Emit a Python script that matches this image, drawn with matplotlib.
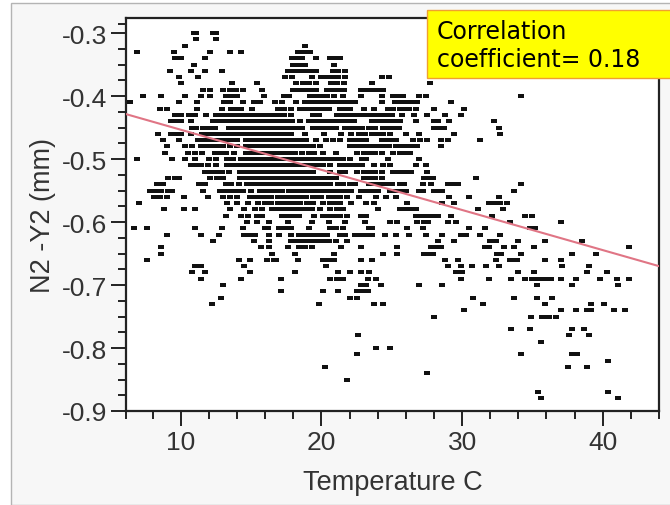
import matplotlib
matplotlib.use('Agg')
import matplotlib.pyplot as plt
from matplotlib.patches import Rectangle

# measurement levels (mm), one list of temperatures per level
y_levels = [-0.30, -0.31, -0.32, -0.33, -0.34, -0.35, -0.36, -0.37, -0.38, -0.39,
            -0.40, -0.41, -0.42, -0.43, -0.44, -0.45, -0.46, -0.47, -0.48, -0.49,
            -0.50, -0.51, -0.52, -0.53, -0.54, -0.55, -0.56, -0.57, -0.58, -0.59,
            -0.60, -0.61, -0.62, -0.63, -0.64, -0.65, -0.66, -0.67, -0.68, -0.69,
            -0.70, -0.71, -0.72, -0.73, -0.74, -0.75, -0.77, -0.78, -0.79, -0.80,
            -0.81, -0.82, -0.83, -0.84, -0.85, -0.87, -0.88]

t_030 = [10.9, 11.1, 12.3, 12.5]
t_031 = [11.1, 12.5]
t_032 = [10.3, 18.8]
t_033 = [6.85, 9.5, 12.05, 13.5, 14.25, 18.3, 18.6, 18.9, 19.2]
t_034 = [9.6, 10.0, 11.75, 17.9, 18.3, 18.6, 19.6, 20.6, 21.0, 21.3]
t_035 = [10.9, 18.0, 18.4, 18.8, 20.9]
t_036 = [9.2, 10.75, 11.75, 12.9, 17.6, 18.0, 18.4, 18.8, 19.2, 19.6, 20.8, 21.2, 21.7]
t_037 = [9.85, 11.25, 17.4, 17.9, 19.3, 20.0, 20.4, 20.8, 21.2, 21.7, 24.3, 24.8]
t_038 = [10.0, 13.65, 15.4, 18.2, 18.7, 19.1, 19.6, 20.7, 21.1, 21.6, 23.6, 27.7]
t_039 = [11.6, 12.1, 13.0, 13.5, 13.9, 14.4, 15.8, 18.0, 18.4, 18.8, 19.2, 19.6, 20.4, 20.8,
         21.2, 21.6, 22.8, 23.2, 23.6, 24.0, 24.4]
t_040 = [7.3, 8.6, 10.3, 11.4, 12.05, 13.2, 13.6, 14.0, 15.9, 17.3, 17.7, 19.2, 19.6, 20.0,
         20.4, 20.9, 21.5, 22.8, 24.3, 25.1, 25.4, 25.8, 26.9, 27.4, 34.2]
t_041 = [6.4, 9.85, 11.15, 13.1, 13.5, 14.4, 15.2, 15.6, 16.7, 17.2, 18.2, 18.8, 19.2, 19.6,
         20.0, 20.4, 20.8, 21.2, 21.6, 22.0, 22.4, 24.3, 25.2, 25.6, 25.9, 26.2, 26.6, 26.8, 29.2]
t_042 = [8.5, 9.0, 11.15, 12.9, 13.6, 14.0, 14.3, 15.05, 16.9, 17.3, 17.8, 18.5, 18.9, 19.3,
         19.7, 20.1, 20.5, 21.3, 21.7, 22.0, 23.0, 23.75, 24.7, 25.1, 25.6, 26.0, 26.2, 26.7,
         28.0, 30.1]
t_043 = [9.6, 10.0, 10.6, 11.0, 11.8, 12.5, 12.9, 13.3, 13.7, 14.1, 14.5, 14.9, 15.3, 15.7,
         16.1, 16.5, 16.9, 17.3, 17.8, 19.4, 19.8, 21.1, 21.5, 21.9, 22.3, 22.7, 23.1, 23.5,
         23.9, 24.3, 24.7, 25.0, 25.7, 26.6, 27.5, 28.8, 29.9]
t_044 = [9.3, 9.7, 10.0, 10.75, 12.3, 12.7, 13.1, 13.5, 13.9, 14.3, 14.7, 15.1, 15.5, 15.9,
         16.3, 16.7, 17.1, 17.5, 17.9, 18.5, 19.1, 19.5, 19.9, 20.3, 20.7, 21.1, 21.5, 21.9,
         22.3, 23.6, 24.0, 24.4, 24.8, 25.2, 25.6, 26.7, 28.0, 28.3, 29.1, 32.3]
t_045 = [10.8, 11.1, 11.6, 12.0, 12.4, 13.4, 13.8, 14.2, 14.6, 15.0, 15.4, 15.8, 16.2, 16.6,
         17.0, 17.4, 17.8, 18.2, 18.6, 19.4, 19.8, 20.2, 20.6, 21.0, 21.7, 22.1, 22.5, 22.9,
         23.4, 23.8, 24.4, 24.8, 25.2, 25.5, 28.0, 28.3, 28.7, 32.6]
t_046 = [8.4, 9.3, 9.7, 10.0, 10.75, 11.5, 11.9, 12.3, 12.7, 13.1, 13.5, 13.9, 14.3, 14.7,
         15.1, 15.5, 15.9, 16.3, 16.7, 17.1, 17.5, 17.8, 18.8, 20.2, 21.4, 22.1, 22.7, 23.1,
         23.6, 24.0, 24.4, 24.9, 26.0, 26.9, 29.4, 32.7]
t_047 = [8.75, 9.85, 11.2, 11.6, 12.0, 12.4, 12.8, 13.2, 13.6, 14.0, 14.6, 15.0, 15.4, 15.8,
         16.2, 16.6, 17.0, 17.4, 17.8, 18.2, 18.6, 18.9, 19.6, 20.3, 20.8, 21.3, 22.0, 22.4,
         22.8, 23.2, 24.3, 24.7, 25.1, 25.3, 26.5, 27.0, 27.5, 28.5, 29.0, 31.3]
t_048 = [9.05, 10.3, 10.8, 11.4, 11.8, 12.2, 12.6, 13.0, 13.5, 14.0, 14.6, 15.0, 15.4, 15.8,
         16.2, 16.6, 17.0, 17.4, 17.8, 18.2, 18.6, 19.0, 19.4, 19.9, 22.0, 22.4, 22.8, 23.2,
         23.6, 24.0, 24.4, 24.8, 25.3, 25.6, 26.0, 26.4, 26.8, 28.5]
t_049 = [8.9, 10.5, 11.0, 11.5, 12.4, 12.8, 13.2, 13.8, 14.6, 15.0, 15.4, 15.8, 16.2, 16.6,
         17.0, 17.4, 17.8, 18.1, 18.6, 19.1, 19.5, 20.1, 21.0, 22.5, 23.0, 23.4, 23.8, 24.3,
         25.1, 25.6, 26.0, 26.3]
t_050 = [6.85, 9.4, 10.3, 11.0, 12.0, 12.5, 13.3, 13.7, 14.3, 14.6, 14.9, 15.3, 15.7, 16.1,
         16.5, 16.9, 17.3, 17.7, 18.1, 18.5, 18.9, 19.3, 19.7, 20.1, 20.4, 20.7, 21.1, 21.5,
         22.0, 22.9, 23.2, 24.7, 26.9]
t_051 = [10.7, 11.1, 11.4, 11.9, 12.5, 13.3, 13.7, 14.1, 14.5, 14.9, 15.3, 15.7, 16.1, 16.5,
         16.9, 17.3, 17.7, 18.1, 18.5, 18.9, 19.3, 19.7, 20.1, 20.6, 21.3, 21.7, 22.1, 22.5,
         22.9, 23.75, 24.4, 24.9, 26.7, 27.4]
t_052 = [11.7, 12.1, 12.5, 12.9, 13.4, 14.2, 14.6, 15.0, 15.4, 15.8, 16.2, 16.6, 17.0, 17.4,
         17.8, 18.2, 18.6, 19.0, 19.4, 20.6, 21.3, 21.7, 22.5, 23.0, 23.4, 23.8, 24.3, 25.1,
         25.4, 25.7, 26.1, 26.4, 27.5]
t_053 = [9.1, 9.6, 9.9, 12.1, 12.6, 13.0, 14.2, 14.6, 15.0, 15.4, 15.8, 16.2, 16.6, 17.0,
         17.4, 17.8, 18.2, 18.6, 19.0, 19.4, 19.8, 20.2, 20.6, 21.0, 23.0, 23.4, 23.8, 24.3,
         27.3, 27.6, 27.9, 31.0]
t_054 = [8.3, 8.7, 11.3, 11.7, 13.2, 13.6, 14.1, 14.7, 15.0, 15.4, 15.8, 16.2, 16.6, 17.0,
         17.4, 17.8, 18.2, 18.6, 19.0, 19.4, 19.8, 20.2, 20.6, 21.2, 21.5, 22.0, 22.4, 23.4,
         23.8, 24.2, 24.6, 25.0, 25.6, 25.9, 27.2, 27.8, 29.0, 29.3, 29.7, 34.2]
t_055 = [7.8, 8.2, 8.6, 9.1, 9.4, 11.6, 12.8, 13.2, 13.6, 14.0, 14.4, 15.0, 15.6, 16.0,
         16.4, 16.8, 17.2, 17.7, 18.0, 18.4, 18.8, 19.2, 19.6, 20.0, 20.4, 20.8, 21.0, 21.4,
         21.8, 22.1, 22.8, 23.2, 23.6, 24.0, 24.9, 25.2, 25.6, 26.0, 26.9, 27.2, 28.0, 28.3,
         28.6, 33.7]
t_056 = [8.1, 8.5, 9.0, 10.2, 11.9, 13.0, 13.5, 14.0, 14.9, 15.3, 15.7, 16.1, 16.4, 16.9,
         17.3, 17.7, 18.1, 18.5, 18.9, 19.4, 19.6, 20.0, 20.5, 20.9, 21.3, 21.8, 22.7, 23.9,
         24.6, 25.3, 29.1, 30.5, 32.6]
t_057 = [7.0, 13.3, 14.0, 14.8, 15.5, 16.0, 16.4, 16.9, 17.3, 17.7, 18.1, 18.5, 19.0, 19.4,
         20.1, 20.6, 21.0, 21.3, 22.1, 23.2, 23.7, 26.1, 28.6, 29.4, 31.9, 32.3, 32.7, 33.2]
t_058 = [8.8, 10.2, 11.0, 13.5, 14.5, 15.3, 15.8, 16.5, 16.9, 17.3, 17.7, 18.1, 18.5, 18.9,
         19.3, 19.9, 20.6, 21.1, 21.5, 24.0, 25.6, 26.0, 26.4, 26.7, 31.1, 32.9]
t_059 = [13.2, 14.3, 14.8, 15.4, 15.8, 17.2, 17.6, 18.0, 18.4, 19.5, 20.1, 20.5, 20.9, 21.3,
         21.8, 22.8, 23.2, 26.7, 27.1, 27.5, 27.9, 28.3, 29.2, 32.1, 34.5, 35.0]
t_060 = [14.7, 15.4, 16.3, 17.6, 19.3, 20.5, 21.7, 23.1, 24.9, 25.4, 26.8, 27.3, 27.6, 29.0,
         29.6, 33.4, 37.0]
t_061 = [6.7, 7.6, 11.0, 12.9, 14.4, 16.0, 16.2, 17.0, 17.4, 17.8, 19.1, 20.6, 21.0, 21.5,
         23.4, 23.6, 26.1, 27.2, 30.5, 31.6, 34.8, 35.2]
t_062 = [9.0, 11.4, 12.7, 14.5, 14.9, 15.3, 16.3, 17.0, 17.8, 18.4, 18.8, 19.2, 19.6, 20.0,
         20.4, 21.3, 21.7, 22.4, 22.8, 23.2, 23.6, 24.5, 25.3, 26.2, 27.4, 28.6, 29.9, 30.3,
         31.3, 32.7]
t_063 = [12.3, 15.2, 16.3, 17.8, 18.2, 18.5, 18.9, 19.3, 19.7, 20.1, 20.5, 21.0, 21.8, 28.3,
         29.4, 32.0, 32.4, 34.0, 35.9, 38.5]
t_064 = [8.6, 15.7, 16.3, 17.6, 18.4, 18.8, 19.3, 21.4, 22.8, 25.4, 27.8, 28.2, 28.5, 31.6,
         31.9, 33.0, 33.7, 35.1, 41.9]
t_065 = [8.6, 16.5, 18.1, 20.9, 24.4, 25.4, 27.3, 27.7, 27.9, 32.5, 32.8, 34.2, 37.8, 39.5]
t_066 = [7.6, 14.1, 14.9, 16.1, 16.6, 16.8, 18.3, 20.1, 20.5, 20.9, 22.8, 23.6, 28.8, 29.7,
         32.4, 33.4, 33.7, 33.9, 35.9, 37.0]
t_067 = [11.0, 11.4, 14.5, 20.3, 29.0, 29.9, 30.7, 31.7, 32.6, 37.1, 39.0]
t_068 = [10.8, 11.75, 14.9, 18.1, 21.2, 22.0, 22.8, 23.4, 29.6, 30.0, 34.0, 35.1, 38.9, 40.3]
t_069 = [11.4, 14.25, 17.1, 20.6, 21.1, 21.5, 23.3, 23.9, 29.9, 31.9, 33.5, 34.5, 35.0, 35.3,
         35.7, 36.1, 36.3, 37.0, 38.1, 39.8, 41.0, 41.9]
t_070 = [13.0, 22.8, 23.2, 24.2, 26.9, 28.6, 35.3, 37.8, 41.1]
t_071 = [17.1, 20.1, 21.2, 22.5, 22.9, 23.3]
t_072 = [12.85, 22.0, 22.5, 30.8, 33.7, 35.3, 36.4]
t_073 = [12.2, 19.8, 23.75, 24.4, 31.5, 35.9, 39.2, 40.1]
t_074 = [30.1, 37.0, 38.1, 38.9, 39.2, 40.8, 41.6]
t_075 = [28.0, 34.9, 35.7, 36.0, 36.2, 36.7]
t_077 = [33.5, 34.8, 37.8, 38.7]
t_078 = [22.6, 37.6, 39.0]
t_079 = [35.6]
t_080 = [23.9, 24.85]
t_081 = [22.5, 34.2, 37.8, 38.2]
t_082 = [40.4]
t_083 = [20.25, 37.5, 38.9]
t_084 = [27.5]
t_085 = [21.85]
t_087 = [35.4, 40.4]
t_088 = [35.6, 41.1]

temps_by_level = [t_030, t_031, t_032, t_033, t_034, t_035, t_036, t_037, t_038, t_039,
                  t_040, t_041, t_042, t_043, t_044, t_045, t_046, t_047, t_048, t_049,
                  t_050, t_051, t_052, t_053, t_054, t_055, t_056, t_057, t_058, t_059,
                  t_060, t_061, t_062, t_063, t_064, t_065, t_066, t_067, t_068, t_069,
                  t_070, t_071, t_072, t_073, t_074, t_075, t_077, t_078, t_079, t_080,
                  t_081, t_082, t_083, t_084, t_085, t_087, t_088]

# fitted line, read at both edges of the plot
fit_x = [6.1, 44.0]
fit_y = [-0.4286, -0.670]

x_ticks = [10, 20, 30, 40]
x_minor = [6.1, 8, 12, 14, 16, 18, 22, 24, 26, 28, 32, 34, 36, 38, 42, 44]
y_ticks = [-0.9, -0.8, -0.7, -0.6, -0.5, -0.4, -0.3]
y_minor = [-0.875, -0.85, -0.825, -0.775, -0.75, -0.725, -0.675, -0.65, -0.625,
           -0.575, -0.55, -0.525, -0.475, -0.45, -0.425, -0.375, -0.35, -0.325, -0.285]

W, H = 670, 506
fig = plt.figure(figsize=(W / 100, H / 100), dpi=100, facecolor='white')
plt.rcParams['font.family'] = ['Liberation Sans', 'DejaVu Sans']

# grey panel behind the plot
fig.patches.append(Rectangle((10.5 / W, 0), 1, 1 - 3.5 / H, transform=fig.transFigure,
                             facecolor='#f7f7f7', edgecolor='#b4b4b4', linewidth=1, zorder=-1))

ax = fig.add_axes([126 / W, 1 - 412 / H, 533 / W, 393 / H], facecolor='white')

pts_x = []
pts_y = []
for level, temps in zip(y_levels, temps_by_level):
    pts_x.extend(temps)
    pts_y.extend([level] * len(temps))

# dots are wider than tall
dash = [(-1, -0.52), (1, -0.52), (1, 0.52), (-1, 0.52)]
ax.plot(pts_x, pts_y, linestyle='none', marker=dash, markersize=4.4, color='#111111',
        markeredgewidth=0, zorder=2)
ax.plot(fit_x, fit_y, color='#e07585', linewidth=1.5, zorder=3)

ax.set_xlim(6.1, 44.0)
ax.set_ylim(-0.9, -0.276)
ax.set_xticks(x_ticks)
ax.set_xticks(x_minor, minor=True)
ax.set_yticks(y_ticks)
ax.set_yticks(y_minor, minor=True)
ax.set_yticklabels(['-0.9', '-0.8', '-0.7', '-0.6', '-0.5', '-0.4', '-0.3'])
ax.tick_params(axis='both', which='major', length=10.5, width=1.4, color='#222222',
               labelsize=19, labelcolor='#333333', pad=3)
ax.tick_params(axis='both', which='minor', length=5.5, width=1.4, color='#222222')
for spine in ax.spines.values():
    spine.set_linewidth(1.6)
    spine.set_color('#222222')

ax.set_xlabel('Temperature C', fontsize=19.5, color='#333333', labelpad=11)
ax.set_ylabel('N2 -Y2 (mm)', fontsize=19.5, color='#333333', labelpad=4)

# annotation box, sits over the plot corner
fig.patches.append(Rectangle((427 / W, 1 - 79 / H), 1, 68 / H, transform=fig.transFigure,
                             facecolor='#ffff00', edgecolor='#f0a030', linewidth=1, zorder=5))
fig.text(437 / W, 1 - 46 / H, 'Correlation\ncoefficient= 0.18', fontsize=17, color='black',
         family=['DejaVu Sans'], va='center', ha='left', linespacing=1.2, zorder=6)

fig.savefig('out.png', dpi=100, facecolor=fig.get_facecolor())
